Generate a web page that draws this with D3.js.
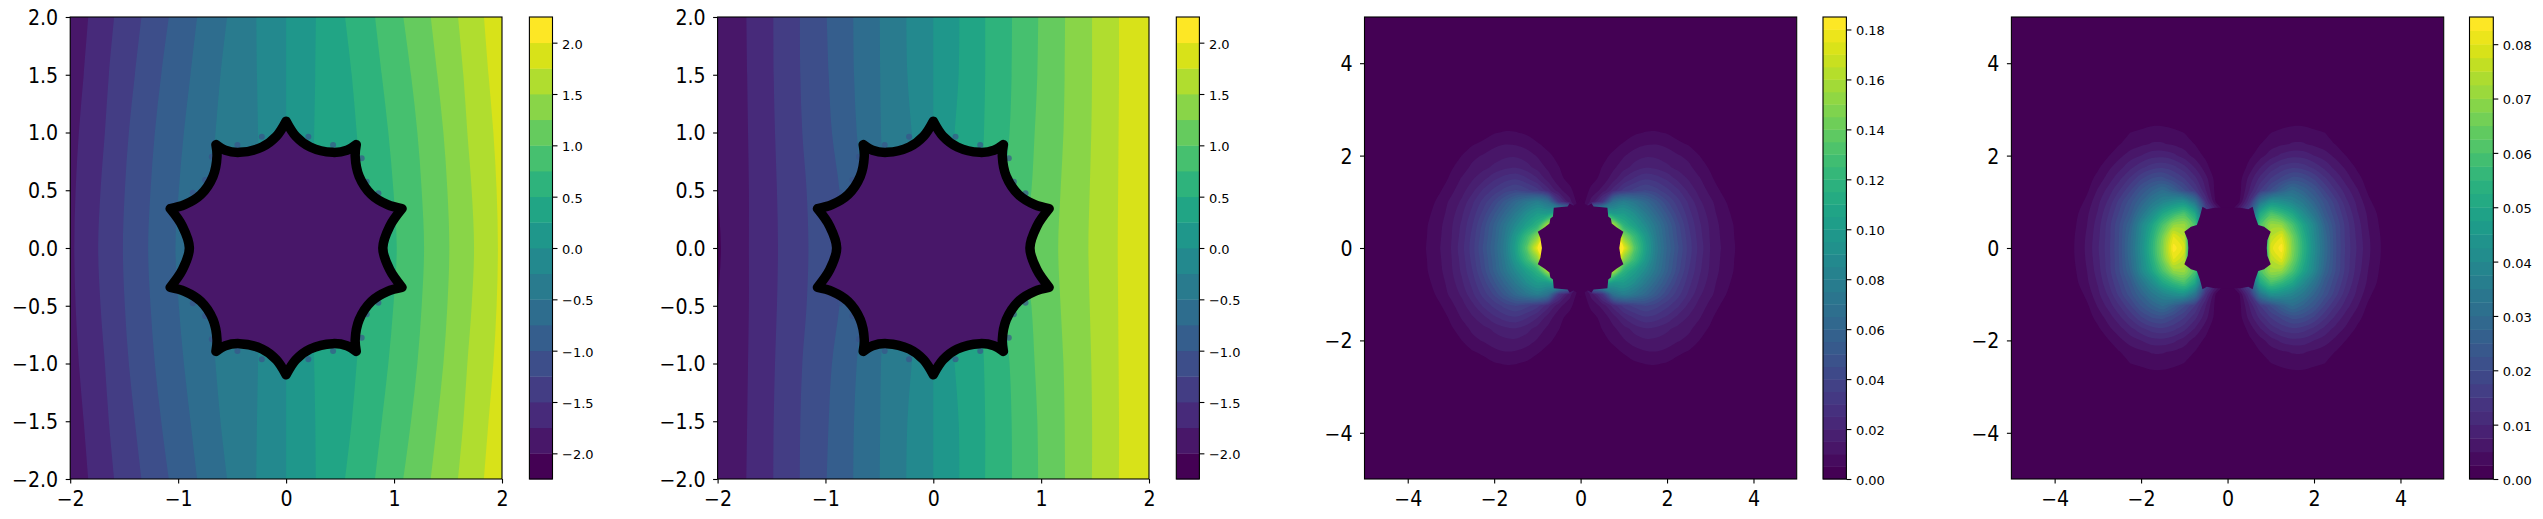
<!DOCTYPE html>
<html><head><meta charset="utf-8">
<script src="https://cdn.jsdelivr.net/npm/d3@7"></script>
<style>html,body{margin:0;padding:0;background:#fff}svg{display:block}text{font-family:"DejaVu Sans";fill:#000}</style>
</head><body><svg id="c" width="2543" height="519"></svg>
<script>
// y rows (upper half; lower half is the mirror) at which the band edges were read
const rowYs = [2, 1.5, 1, 0.5, 0];
// x position of each level's edge (levels -2 ... 1.75, step .25) at rowYs
const edges1 = [
 [-2.2,-2.2,-2.2,-2.2,-2.2],
 [-1.833,-1.875,-1.92,-1.95,-1.962],
 [-1.593,-1.642,-1.679,-1.719,-1.741],
 [-1.34,-1.401,-1.457,-1.494,-1.512],
 [-1.086,-1.157,-1.216,-1.256,-1.278],
 [-0.824,-0.886,-0.947,-0.994,-1.025],
 [-0.546,-0.608,-0.654,-0.70,-0.73],
 [-0.276,-0.27,-0.26,-0.25,-0.25],
 [0,0,0,0,0],
 [0.276,0.27,0.26,0.25,0.25],
 [0.546,0.608,0.654,0.70,0.73],
 [0.824,0.886,0.947,0.994,1.025],
 [1.086,1.157,1.216,1.256,1.278],
 [1.34,1.401,1.457,1.494,1.512],
 [1.593,1.642,1.679,1.719,1.741],
 [1.833,1.875,1.92,1.95,1.962]];
const edges2 = [
 [-2.06,-2.05,-2.03,-2.0,-1.97],
 [-1.733,-1.726,-1.718,-1.71,-1.71],
 [-1.483,-1.48,-1.468,-1.45,-1.44],
 [-1.237,-1.233,-1.215,-1.175,-1.158],
 [-0.988,-0.97,-0.94,-0.87,-0.83],
 [-0.742,-0.735,-0.71,-0.66,-0.62],
 [-0.496,-0.492,-0.485,-0.46,-0.44],
 [-0.25,-0.24,-0.2,-0.15,-0.12],
 [0,0,0,0,0],
 [0.242,0.235,0.197,0.15,0.12],
 [0.481,0.481,0.47,0.45,0.44],
 [0.73,0.726,0.707,0.66,0.62],
 [0.973,0.965,0.94,0.91,0.85],
 [1.222,1.218,1.207,1.18,1.158],
 [1.472,1.472,1.465,1.45,1.438],
 [1.722,1.722,1.718,1.714,1.71]];
// star outline, first quadrant arcs
const starArcTop = [[0,1.097],[0.09,0.967],[0.223,0.874],[0.43,0.828],[0.563,0.846],[0.65,0.895]];
const starArcUpper = [[0.65,0.895],[0.64,0.794],[0.677,0.62],[0.79,0.462],[0.94,0.375],[1.074,0.341]];
const starArcSide = [[1.074,0.341],[0.96,0.188],[0.896,0],[0.96,-0.188],[1.074,-0.341]];
// small blue flecks just outside the star (upper half)
const flecks = [[-0.864,0.479],[-0.75,0.589],[-0.688,0.79],[-0.451,0.892],[-0.225,0.964],[0.206,0.964],[0.435,0.892],[0.70,0.777],[0.747,0.574],[0.855,0.474]];

// magnitude fields: one quadrant, rows y=0..3 step .25, columns x=0..4 step .25
const field3 = [
[0,.24,.24,.24,.178,.135,.104,.078,.06,.046,.033,.023,.015,.01,.006,.0028,0],
[0,.2,.2,.2,.15,.124,.099,.076,.058,.044,.032,.022,.0145,.0095,.0058,.0022,0],
[0,.16,.16,.16,.118,.103,.088,.072,.056,.042,.03,.021,.014,.009,.0055,.002,0],
[0,.1,.12,.1,.1,.09,.076,.062,.049,.037,.027,.019,.0125,.0078,.0045,.001,0],
[0,.012,.03,.07,.08,.073,.063,.052,.041,.032,.024,.016,.0112,.0068,.003,0,0],
[0,.0065,.0115,.022,.032,.037,.0405,.037,.0315,.026,.0185,.013,.0085,.0045,.001,0,0],
[0,.003,.0068,.0125,.0205,.026,.0295,.0278,.024,.0185,.0145,.0105,.0062,.002,0,0,0],
[0,.001,.0052,.0088,.013,.017,.0195,.0185,.016,.0135,.0112,.0075,.0042,.001,0,0,0],
[0,0,.0025,.0065,.0095,.0125,.0142,.014,.0128,.0105,.0085,.005,.0018,0,0,0,0],
[0,0,0,.0025,.0058,.008,.0095,.0098,.0085,.0062,.0045,.0018,0,0,0,0,0],
[0,0,0,0,.001,.0042,.0052,.0054,.0046,.0028,0,0,0,0,0,0,0],
[0,0,0,0,0,0,.002,.002,0,0,0,0,0,0,0,0,0],
[0,0,0,0,0,0,0,0,0,0,0,0,0,0,0,0,0]];
const field4 = [
[0,.02,.02,.02,.079,.084,.068,.054,.0415,.03,.0205,.0142,.0097,.0056,.0029,.0008,0],
[0,.02,.02,.03,.075,.08,.066,.0525,.0405,.0293,.0203,.014,.0093,.0054,.0028,.0007,0],
[0,.02,.02,.06,.071,.07,.06,.049,.039,.0275,.02,.0138,.0088,.005,.0025,.0005,0],
[0,.01,.02,.05,.06,.056,.05,.041,.033,.024,.018,.0125,.0078,.0045,.002,.0002,0],
[0,.0015,.012,.033,.043,.042,.0385,.034,.0275,.0215,.016,.0106,.0068,.0034,.0007,0,0],
[0,.001,.0075,.015,.0205,.0265,.0305,.027,.0228,.0172,.0125,.0085,.0053,.002,0,0,0],
[0,.001,.0058,.0108,.0152,.0182,.021,.0203,.0172,.0131,.0094,.0062,.0035,.0012,0,0,0],
[0,0,.0035,.0072,.0108,.0133,.0145,.0138,.0118,.0092,.0066,.0044,.002,.0002,0,0,0],
[0,0,.0018,.004,.0062,.0082,.0092,.009,.0075,.0062,.0043,.0024,.0006,0,0,0,0],
[0,0,0,.0024,.0038,.0046,.0052,.0052,.0045,.0036,.0024,.0006,0,0,0,0,0],
[0,0,0,.0005,.0024,.0033,.0037,.0037,.0032,.0025,.0008,0,0,0,0,0,0],
[0,0,0,0,0,.0008,.0015,.0015,.0007,0,0,0,0,0,0,0,0],
[0,0,0,0,0,0,0,0,0,0,0,0,0,0,0,0,0]];
// jagged empty hole, one quadrant from the top centre to the x axis
const hole3 = [[0,1.07],[0.1,0.95],[0.17,0.92],[0.25,0.97],[0.3,0.9],[0.5,0.88],[0.62,0.87],[0.64,0.68],[0.7,0.64],[0.72,0.53],[0.83,0.45],[0.99,0.354],[0.93,0.21],[0.895,0]];
const hole4 = [[0,0.87],[0.3,0.87],[0.48,0.84],[0.58,0.895],[0.64,0.68],[0.71,0.5],[0.845,0.46],[0.999,0.354],[0.92,0.17],[0.907,0]];

const ticksWide = [-2,-1,0,1,2];
const ticksTall = [-2,-1.5,-1,-0.5,0,0.5,1,1.5,2];
const ticksField = [-4,-2,0,2,4];
const cbTicksA = [-2,-1.5,-1,-0.5,0,0.5,1,1.5,2];
const cbTicks3 = [0,.02,.04,.06,.08,.10,.12,.14,.16,.18];
const cbTicks4 = [0,.01,.02,.03,.04,.05,.06,.07,.08];

const panels = [
 {kind:'edges',edges:edges1,left:70.2,right:502,cbL:529.4,cbR:552.5,dom:2,xt:ticksWide,yt:ticksTall,yf:'.1f',cbMin:-2.25,cbMax:2.25,cbN:18,cbT:cbTicksA,cbF:'.1f'},
 {kind:'edges',edges:edges2,left:717.6,right:1149,cbL:1176.3,cbR:1199.4,dom:2,xt:ticksWide,yt:ticksTall,yf:'.1f',cbMin:-2.25,cbMax:2.25,cbN:18,cbT:cbTicksA,cbF:'.1f'},
 {kind:'field',field:field3,hole:hole3,left:1364.5,right:1796.7,cbL:1823,cbR:1846.4,dom:5,xt:ticksField,yt:ticksField,yf:'d',cbMin:0,cbMax:.185,cbN:37,cbT:cbTicks3,cbF:'.2f'},
 {kind:'field',field:field4,hole:hole4,left:2011.4,right:2443.7,cbL:2469.5,cbR:2493.3,dom:5,xt:ticksField,yt:ticksField,yf:'d',cbMin:0,cbMax:.085,cbN:34,cbT:cbTicks4,cbF:'.2f'}
];
const plotTop=17,plotBottom=479;
const svg=d3.select('#c');
const minus=s=>s.replace('-','\u2212');
// filled-contour colouring: lowest band maps to the start of the map, highest band to the end
const band=(i,n)=>d3.interpolateViridis(i/(n-1));

panels.forEach((p,pi)=>{
 const x=d3.scaleLinear([-p.dom,p.dom],[p.left,p.right]);
 const y=d3.scaleLinear([-p.dom,p.dom],[plotBottom,plotTop]);
 const g=svg.append('g');
 const id='clip'+pi;
 svg.append('clipPath').attr('id',id).append('rect').attr('x',p.left).attr('y',plotTop).attr('width',p.right-p.left).attr('height',plotBottom-plotTop);
 const plot=g.append('g').attr('clip-path',`url(#${id})`);
 plot.append('rect').attr('x',p.left).attr('y',plotTop).attr('width',p.right-p.left).attr('height',plotBottom-plotTop).attr('fill',band(0,p.cbN));
 if(p.kind==='edges'){
  const area=d3.area().x0(d=>x(d[0])).x1(p.right+20).y(d=>y(d[1])).curve(d3.curveCatmullRom);
  p.edges.forEach((row,k)=>{
   const up=row.map((v,j)=>[v,rowYs[j]]);
   const down=row.slice(0,-1).reverse().map((v,j)=>[v,-rowYs[3-j]]);
   plot.append('path').attr('d',area(up.concat(down))).attr('fill',band(k+1,18));
  });
  const spots=flecks.concat(flecks.map(d=>[d[0],-d[1]]));
  plot.selectAll('circle.f').data(spots).join('circle').attr('class','f')
   .attr('cx',d=>x(d[0])).attr('cy',d=>y(d[1])).attr('r',3).attr('fill','#3b528b').attr('opacity',0.65);
  const fy=a=>a.map(d=>[d[0],-d[1]]).reverse();
  const fx=a=>a.map(d=>[-d[0],d[1]]).reverse();
  const rightSide=[starArcTop,starArcUpper,starArcSide,fy(starArcUpper),fy(starArcTop)];
  const arcs=rightSide.concat(rightSide.map(fx).reverse());
  const line=d3.line().x(d=>x(d[0])).y(d=>y(d[1])).curve(d3.curveCatmullRom);
  const d=arcs.map((a,i)=>{const s=line(a);return i?'L'+s.slice(1):s;}).join('')+'Z';
  plot.append('path').attr('d',d).attr('fill',band(1,18)).attr('stroke','#000').attr('stroke-width',9.5).attr('stroke-linejoin','round').attr('stroke-linecap','round');
 } else {
  const ny=p.field.length, nx=p.field[0].length;
  const W=2*nx-1,H=2*ny-1;
  const vals=new Array(W*H);
  for(let j=0;j<H;j++)for(let i=0;i<W;i++){
   vals[j*W+i]=p.field[Math.abs(j-(ny-1))][Math.abs(i-(nx-1))];
  }
  const levels=d3.range(1,p.cbN).map(i=>p.cbMin+i*(p.cbMax-p.cbMin)/p.cbN);
  const contours=d3.contours().size([W,H]).thresholds(levels)(vals);
  const ringLine=d3.line().x(d=>x(-4+(d[0]-0.5)*0.25)).y(d=>y(3-(d[1]-0.5)*0.25)).curve(d3.curveCatmullRomClosed);
  contours.forEach((c,k)=>{
   const d=c.coordinates.flatMap(poly=>poly.map(r=>ringLine(r.slice(0,-1)))).join('');
   plot.append('path').attr('d',d).attr('fill-rule','evenodd').attr('fill',band(k+1,p.cbN));
  });
  const fy=a=>a.map(d=>[d[0],-d[1]]).reverse();
  const fx=a=>a.map(d=>[-d[0],d[1]]).reverse();
  const r=p.hole.concat(fy(p.hole));
  plot.append('path').attr('d',d3.line().x(d=>x(d[0])).y(d=>y(d[1]))(r.concat(fx(r)))+'Z').attr('fill',band(0,p.cbN));
 }
 const fmtY=d3.format(p.yf);
 const ax=g.append('g').attr('transform',`translate(0,${plotBottom})`).call(d3.axisBottom(x).tickValues(p.xt).tickFormat(d=>minus(d3.format('d')(d))).tickSize(4.5).tickPadding(7));
 const ay=g.append('g').attr('transform',`translate(${p.left},0)`).call(d3.axisLeft(y).tickValues(p.yt).tickFormat(d=>minus(fmtY(d))).tickSize(4.5).tickPadding(7.5));
 [ax,ay].forEach(a=>{a.select('.domain').remove();a.selectAll('text').style('font-size','19px').style('font-family','"DejaVu Sans"').attr('fill','#000');a.selectAll('line').attr('stroke','#000').attr('stroke-width',1.1);});
 // reference glyphs are a little taller than wide
 ax.selectAll('text').attr('transform','scale(1,1.09)');
 ay.selectAll('text').attr('transform','scale(1,1.09)').attr('dy','0.36em');
 g.append('rect').attr('x',p.left).attr('y',plotTop).attr('width',p.right-p.left).attr('height',plotBottom-plotTop).attr('fill','none').attr('stroke','#000').attr('stroke-width',1.1);
 // colour bar
 const c=d3.scaleLinear([p.cbMin,p.cbMax],[plotBottom,plotTop]);
 const bh=(p.cbMax-p.cbMin)/p.cbN;
 g.append('g').selectAll('rect').data(d3.range(p.cbN)).join('rect')
  .attr('x',p.cbL).attr('width',p.cbR-p.cbL)
  .attr('y',i=>c(p.cbMin+(i+1)*bh)).attr('height',i=>c(p.cbMin+i*bh)-c(p.cbMin+(i+1)*bh)+0.4)
  .attr('fill',i=>band(i,p.cbN));
 const cbf=d3.format(p.cbF);
 const ac=g.append('g').attr('transform',`translate(${p.cbR},0)`).call(d3.axisRight(c).tickValues(p.cbT).tickFormat(d=>minus(cbf(d))).tickSize(5).tickPadding(4.5));
 ac.select('.domain').remove();
 ac.selectAll('text').style('font-size','13px').style('font-family','"DejaVu Sans"').attr('fill','#000').attr('dy','0.42em');
 ac.selectAll('line').attr('stroke','#000').attr('stroke-width',1.1);
 g.append('rect').attr('x',p.cbL).attr('y',plotTop).attr('width',p.cbR-p.cbL).attr('height',plotBottom-plotTop).attr('fill','none').attr('stroke','#000').attr('stroke-width',1.1);
});
</script></body></html>
